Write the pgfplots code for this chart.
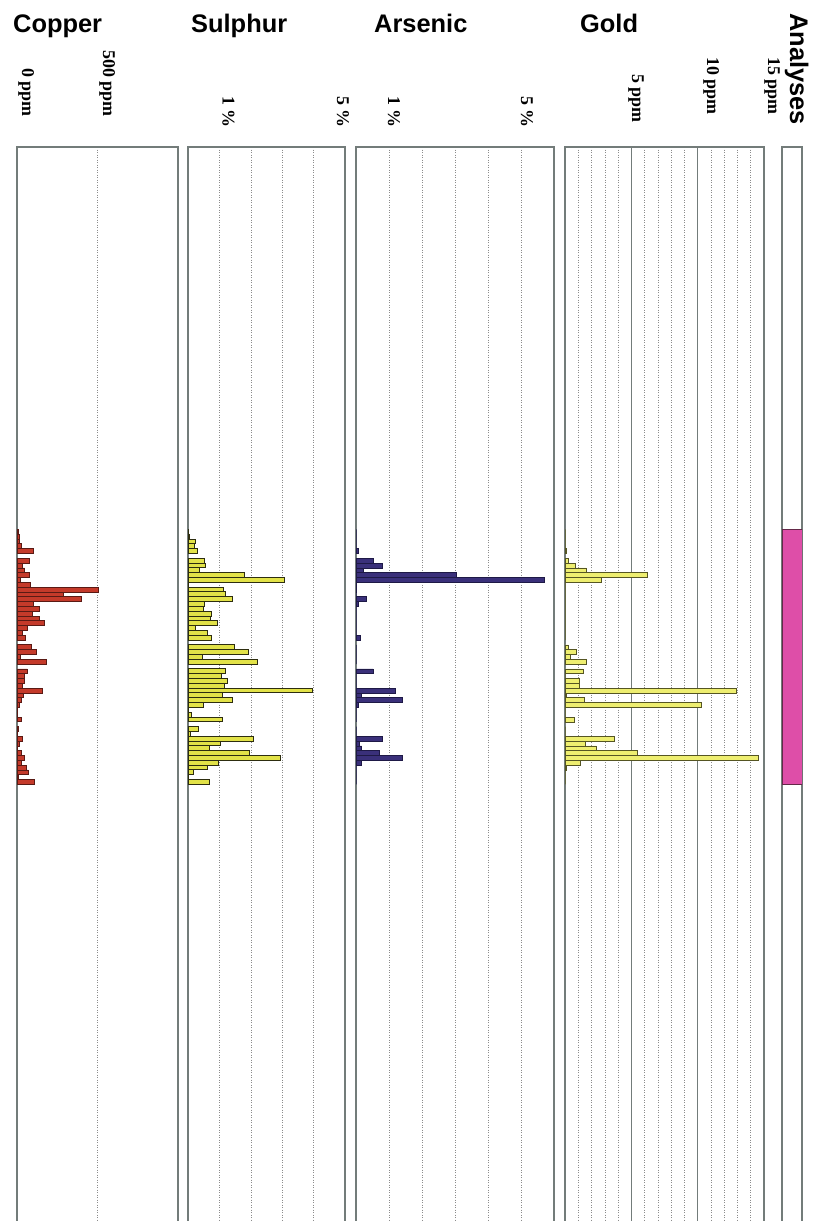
\documentclass[border=0pt]{standalone}
\usepackage{fontspec}
\setmainfont{Liberation Serif}
\newfontfamily\headfont{Liberation Sans}
\usepackage{pgfplots}
\pgfplotsset{compat=1.18}

\definecolor{frame}{RGB}{115,124,122}
\definecolor{gridc}{RGB}{140,140,140}
\definecolor{cufill}{RGB}{196,58,42}
\definecolor{cuedge}{RGB}{90,26,20}
\definecolor{sfill}{RGB}{226,226,72}
\definecolor{sedge}{RGB}{45,45,15}
\definecolor{asfill}{RGB}{58,48,122}
\definecolor{asedge}{RGB}{30,25,70}
\definecolor{aufill}{RGB}{238,238,112}
\definecolor{auedge}{RGB}{85,85,35}
\definecolor{anfill}{RGB}{222,78,168}
\definecolor{anedge}{RGB}{100,40,72}

% one strip of the down-hole log: depth runs downwards, one bar per 1 m sample
\pgfplotsset{
  logpanel/.style={
    scale only axis, height=1078bp,
    ymin=0, ymax=224.1, y dir=reverse,
    xmin=0,
    axis line style={draw=frame, line width=1.3bp},
    ytick=\empty, xticklabels={},
    major tick length=0pt, minor tick length=0pt,
    xmajorgrids,
    major grid style={draw=gridc, line width=0.6bp, dash pattern=on 1.2bp off 1.3bp},
    xbar, bar width=1, bar shift=0pt,
  },
}

\newcommand\scalelabel[3]{%
  \node[rotate=-90, anchor=base east, inner sep=0pt,
        font=\bfseries\fontsize{18}{18}\selectfont] at (#1bp,-#2bp) {#3};}
\newcommand\striptitle[2]{%
  \node[anchor=base west, inner sep=0pt,
        font=\headfont\bfseries\fontsize{25.5}{25.5}\selectfont] at (#1bp,-32.5bp) {#2};}

\begin{document}
\begin{tikzpicture}
\useasboundingbox (0,0) rectangle (814bp,-1221bp);

% ---------------- Copper (ppm)
\begin{axis}[logpanel, at={(17bp,-147bp)}, anchor=north west,
  width=161bp, xmax=1006, xtick={500}]
\addplot[fill=cufill, draw=cuedge, line width=0.8bp] coordinates {
 (10,80) (13,81) (17,82) (29,83) (105,84) (79,86) (31,87) (48,88) (75,89)
 (21,90) (84,91) (510,92) (290,93) (404,94) (100,95) (142,96) (94,97)
 (138,98) (169,99) (63,100) (33,101) (50,102) (92,104) (121,105) (21,106)
 (184,107) (65,109) (48,110) (48,111) (31,112) (159,113) (38,114) (29,115)
 (17,116) (4,117) (2,118) (25,119) (6,121) (2,122) (33,123) (17,124)
 (5,125) (27,126) (48,127) (29,128) (60,129) (70,130) (10,131) (109,132)};
\end{axis}

% ---------------- Sulphur (%)
\begin{axis}[logpanel, at={(188bp,-147bp)}, anchor=north west,
  width=157bp, xmax=5, xtick={1,2,3,4}]
\addplot[fill=sfill, draw=sedge, line width=1bp] coordinates {
 (0.03,80) (0.05,81) (0.24,82) (0.22,83) (0.30,84) (0.54,86) (0.56,87)
 (0.37,88) (1.80,89) (3.06,90) (0.03,91) (1.12,92) (1.20,93) (1.43,94)
 (0.52,95) (0.50,96) (0.75,97) (0.73,98) (0.93,99) (0.23,100) (0.62,101)
 (0.74,102) (1.47,104) (1.92,105) (0.47,106) (2.22,107) (1.20,109)
 (1.06,110) (1.27,111) (1.17,112) (3.97,113) (1.11,114) (1.43,115)
 (0.48,116) (0.02,117) (0.10,118) (1.09,119) (0.35,121) (0.08,122)
 (2.10,123) (1.02,124) (0.69,125) (1.97,126) (2.94,127) (0.98,128)
 (0.61,129) (0.19,130) (0.02,131) (0.69,132)};
\end{axis}

% ---------------- Arsenic (%)
\begin{axis}[logpanel, at={(356bp,-147bp)}, anchor=north west,
  width=198bp, xmax=6, xtick={1,2,3,4,5}]
\addplot[fill=asfill, draw=asedge, line width=0.7bp] coordinates {
 (0,80) (0,81) (0,82) (0,83) (0.07,84) (0.52,86) (0.80,87) (0.21,88)
 (3.03,89) (5.70,90) (0.02,91) (0.02,92) (0,93) (0.30,94) (0.07,95)
 (0,96) (0,97) (0,98) (0,99) (0,100) (0,101) (0.12,102) (0,104) (0,105)
 (0,106) (0,107) (0.52,109) (0,110) (0,111) (0,112) (1.20,113) (0.17,114)
 (1.41,115) (0.07,116) (0,117) (0,118) (0,119) (0,121) (0,122) (0.80,123)
 (0.10,124) (0.17,125) (0.72,126) (1.41,127) (0.17,128) (0,129) (0,130)
 (0,131) (0,132)};
\end{axis}

% ---------------- Gold (ppm)
\begin{axis}[logpanel, at={(565bp,-147bp)}, anchor=north west,
  width=199bp, xmax=15, xtick={5,10},
  minor xtick={1,2,3,4,6,7,8,9,11,12,13,14}, xminorgrids,
  major grid style={draw=frame, line width=0.9bp, solid},
  minor grid style={draw=gridc, line width=0.6bp, dash pattern=on 1.2bp off 1.3bp}]
\addplot[fill=aufill, draw=auedge, line width=0.7bp] coordinates {
 (0,80) (0,81) (0,82) (0,83) (0.13,84) (0.27,86) (0.75,87) (1.60,88)
 (6.17,89) (2.75,90) (0,91) (0,92) (0,93) (0,94) (0,95) (0,96) (0,97)
 (0,98) (0,99) (0,100) (0,101) (0,102) (0.25,104) (0.85,105) (0.43,106)
 (1.60,107) (1.37,109) (0,110) (1.05,111) (1.05,112) (12.9,113) (0.07,114)
 (1.48,115) (10.3,116) (0,117) (0,118) (0.74,119) (0,121) (0,122)
 (3.72,123) (1.55,124) (2.37,125) (5.45,126) (14.6,127) (1.12,128)
 (0.09,129) (0,130) (0,131) (0,132)};
\end{axis}

% ---------------- Analyses: sampled interval
\begin{axis}[logpanel, at={(782bp,-147bp)}, anchor=north west,
  width=20bp, xmax=1, xtick=\empty, xmajorgrids=false]
\addplot[fill=anfill, draw=anedge, line width=0.8bp, bar width=53] coordinates {(1,106)};
\end{axis}

% strip headings
\striptitle{13}{Copper}
\striptitle{191}{Sulphur}
\striptitle{374}{Arsenic}
\striptitle{580}{Gold}
\node[rotate=-90, anchor=base west, inner sep=0pt,
      font=\headfont\bfseries\fontsize{25.5}{25.5}\selectfont] at (790bp,-13bp) {Analyses};

% scale annotations
\scalelabel{22}{117}{0 ppm}
\scalelabel{103}{117}{500 ppm}
\scalelabel{222.5}{128}{1 \%}
\scalelabel{337}{128}{5 \%}
\scalelabel{388}{128}{1 \%}
\scalelabel{521}{128}{5 \%}
\scalelabel{632}{123}{5 ppm}
\scalelabel{707}{115}{10 ppm}
\scalelabel{768}{115}{15 ppm}
\end{tikzpicture}
\end{document}
